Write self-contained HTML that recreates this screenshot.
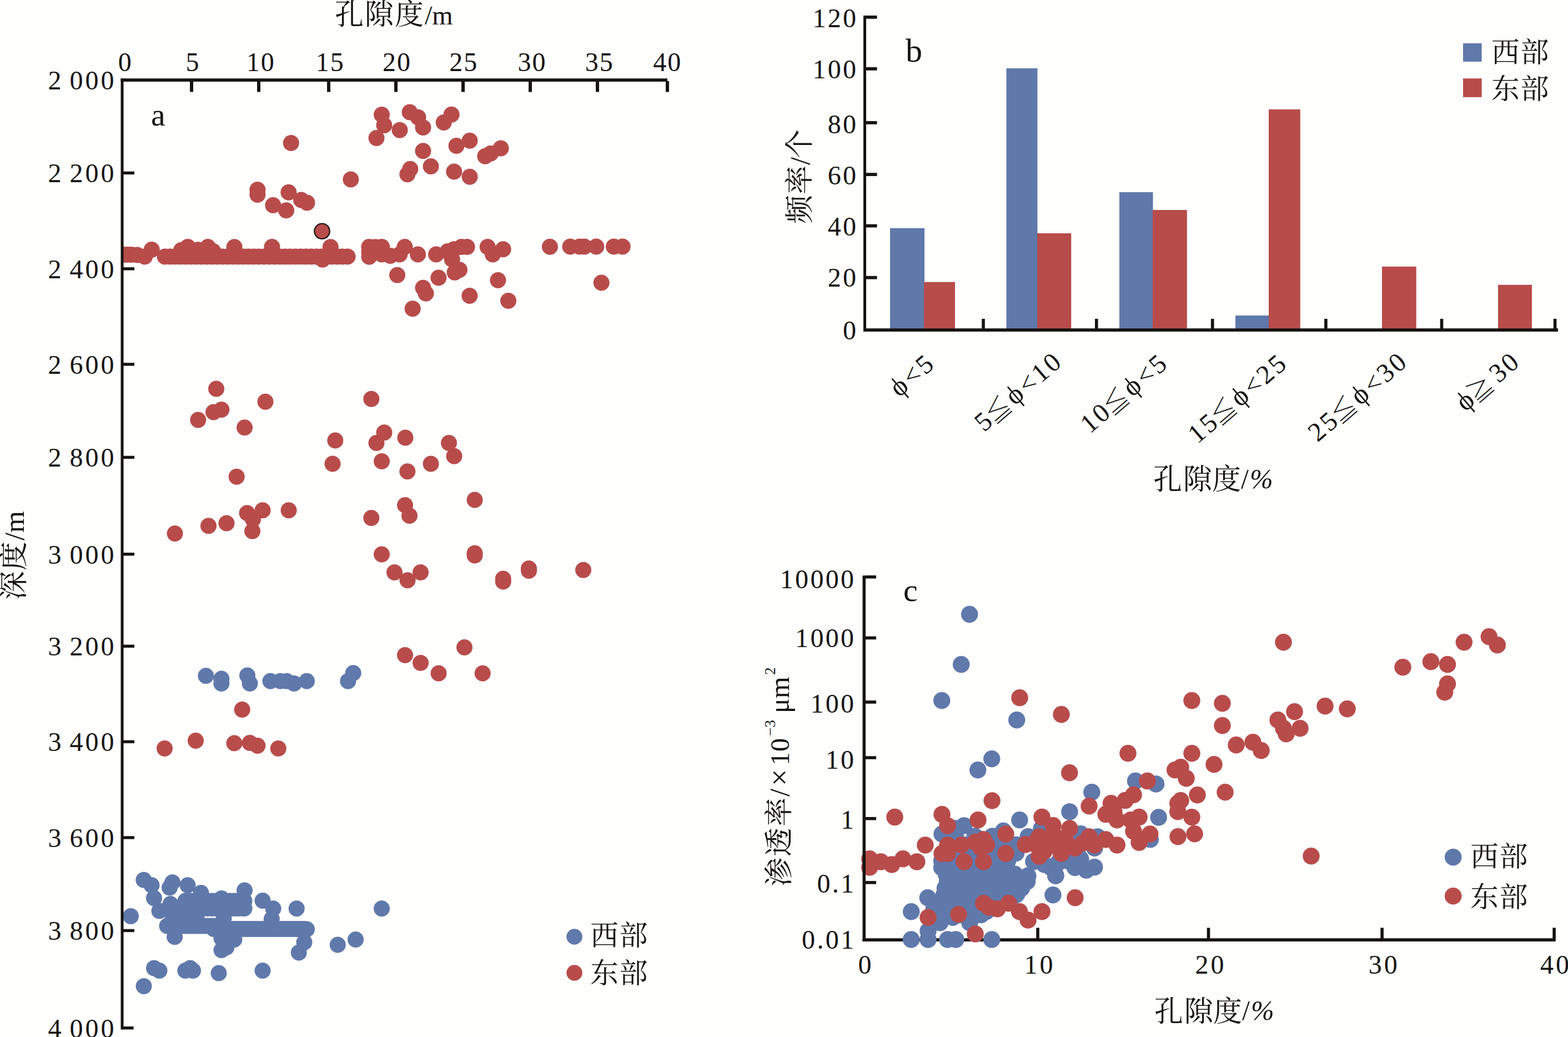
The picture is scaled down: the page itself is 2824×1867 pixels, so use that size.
<!DOCTYPE html>
<html><head><meta charset="utf-8"><style>html,body{margin:0;padding:0;background:#fefefd}svg{display:block}</style></head><body><svg width="2824" height="1867" viewBox="0 0 2824 1867" font-family="'Liberation Serif', serif" fill="#161412">
<rect width="2824" height="1867" fill="#fefefd"/>
<clipPath id="ca"><rect x="219" y="144" width="1100" height="1720"/></clipPath><g clip-path="url(#ca)">
<g fill="#6079ab"><circle cx="370.8" cy="1216.8" r="14.5"/><circle cx="398.8" cy="1222.0" r="14.5"/><circle cx="398.8" cy="1230.5" r="14.5"/><circle cx="445.5" cy="1216.0" r="14.5"/><circle cx="450.0" cy="1230.5" r="14.5"/><circle cx="487.0" cy="1226.2" r="14.5"/><circle cx="505.0" cy="1226.2" r="14.5"/><circle cx="516.2" cy="1226.2" r="14.5"/><circle cx="529.5" cy="1230.5" r="14.5"/><circle cx="552.5" cy="1226.2" r="14.5"/><circle cx="636.2" cy="1211.8" r="14.5"/><circle cx="626.8" cy="1226.2" r="14.5"/><circle cx="235.5" cy="1649.5" r="14.5"/><circle cx="687.5" cy="1635.8" r="14.5"/><circle cx="534.2" cy="1635.8" r="14.5"/><circle cx="640.5" cy="1691.5" r="14.5"/><circle cx="608.2" cy="1701.0" r="14.5"/><circle cx="538.2" cy="1715.0" r="14.5"/><circle cx="548.0" cy="1696.5" r="14.5"/><circle cx="552.5" cy="1673.0" r="14.5"/><circle cx="473.0" cy="1747.5" r="14.5"/><circle cx="394.0" cy="1752.0" r="14.5"/><circle cx="342.5" cy="1743.0" r="14.5"/><circle cx="333.8" cy="1747.5" r="14.5"/><circle cx="347.5" cy="1747.5" r="14.5"/><circle cx="277.5" cy="1743.0" r="14.5"/><circle cx="287.0" cy="1747.5" r="14.5"/><circle cx="259.0" cy="1775.5" r="14.5"/><circle cx="258.8" cy="1584.2" r="14.5"/><circle cx="273.0" cy="1593.8" r="14.5"/><circle cx="277.5" cy="1617.0" r="14.5"/><circle cx="287.0" cy="1640.0" r="14.5"/><circle cx="310.5" cy="1588.8" r="14.5"/><circle cx="305.5" cy="1598.0" r="14.5"/><circle cx="338.0" cy="1593.8" r="14.5"/><circle cx="362.0" cy="1607.5" r="14.5"/><circle cx="440.5" cy="1603.0" r="14.5"/><circle cx="473.0" cy="1621.5" r="14.5"/><circle cx="492.0" cy="1635.8" r="14.5"/><circle cx="489.3" cy="1654.4" r="14.5"/><circle cx="334.0" cy="1622.0" r="14.5"/><circle cx="342.0" cy="1622.0" r="14.5"/><circle cx="350.0" cy="1622.0" r="14.5"/><circle cx="358.0" cy="1622.0" r="14.5"/><circle cx="366.0" cy="1622.0" r="14.5"/><circle cx="374.0" cy="1622.0" r="14.5"/><circle cx="382.0" cy="1622.0" r="14.5"/><circle cx="390.0" cy="1622.0" r="14.5"/><circle cx="398.0" cy="1622.0" r="14.5"/><circle cx="406.0" cy="1622.0" r="14.5"/><circle cx="414.0" cy="1622.0" r="14.5"/><circle cx="422.0" cy="1622.0" r="14.5"/><circle cx="430.0" cy="1622.0" r="14.5"/><circle cx="438.0" cy="1622.0" r="14.5"/><circle cx="326.0" cy="1635.5" r="14.5"/><circle cx="334.0" cy="1635.5" r="14.5"/><circle cx="342.0" cy="1635.5" r="14.5"/><circle cx="350.0" cy="1635.5" r="14.5"/><circle cx="358.0" cy="1635.5" r="14.5"/><circle cx="366.0" cy="1635.5" r="14.5"/><circle cx="374.0" cy="1635.5" r="14.5"/><circle cx="382.0" cy="1635.5" r="14.5"/><circle cx="390.0" cy="1635.5" r="14.5"/><circle cx="398.0" cy="1635.5" r="14.5"/><circle cx="406.0" cy="1635.5" r="14.5"/><circle cx="414.0" cy="1635.5" r="14.5"/><circle cx="422.0" cy="1635.5" r="14.5"/><circle cx="430.0" cy="1635.5" r="14.5"/><circle cx="438.0" cy="1635.5" r="14.5"/><circle cx="440.0" cy="1622.0" r="14.5"/><circle cx="440.0" cy="1635.5" r="14.5"/><circle cx="399.0" cy="1617.6" r="14.5"/><circle cx="307.0" cy="1627.5" r="14.5"/><circle cx="311.0" cy="1641.0" r="14.5"/><circle cx="311.0" cy="1654.5" r="14.5"/><circle cx="318.0" cy="1662.0" r="14.5"/><circle cx="326.0" cy="1649.0" r="14.5"/><circle cx="340.0" cy="1649.0" r="14.5"/><circle cx="354.0" cy="1649.0" r="14.5"/><circle cx="326.0" cy="1662.0" r="14.5"/><circle cx="340.0" cy="1662.0" r="14.5"/><circle cx="354.0" cy="1662.0" r="14.5"/><circle cx="403.0" cy="1653.0" r="14.5"/><circle cx="301.0" cy="1667.0" r="14.5"/><circle cx="307.0" cy="1667.0" r="14.5"/><circle cx="313.0" cy="1667.0" r="14.5"/><circle cx="319.0" cy="1667.0" r="14.5"/><circle cx="325.0" cy="1667.0" r="14.5"/><circle cx="331.0" cy="1667.0" r="14.5"/><circle cx="337.0" cy="1667.0" r="14.5"/><circle cx="343.0" cy="1667.0" r="14.5"/><circle cx="349.0" cy="1667.0" r="14.5"/><circle cx="355.0" cy="1667.0" r="14.5"/><circle cx="361.0" cy="1667.0" r="14.5"/><circle cx="367.0" cy="1667.0" r="14.5"/><circle cx="373.0" cy="1667.0" r="14.5"/><circle cx="379.0" cy="1667.0" r="14.5"/><circle cx="385.0" cy="1667.0" r="14.5"/><circle cx="385.0" cy="1672.4" r="14.5"/><circle cx="391.0" cy="1672.4" r="14.5"/><circle cx="397.0" cy="1672.4" r="14.5"/><circle cx="403.0" cy="1672.4" r="14.5"/><circle cx="409.0" cy="1672.4" r="14.5"/><circle cx="415.0" cy="1672.4" r="14.5"/><circle cx="421.0" cy="1672.4" r="14.5"/><circle cx="427.0" cy="1672.4" r="14.5"/><circle cx="433.0" cy="1672.4" r="14.5"/><circle cx="439.0" cy="1672.4" r="14.5"/><circle cx="445.0" cy="1672.4" r="14.5"/><circle cx="451.0" cy="1672.4" r="14.5"/><circle cx="457.0" cy="1672.4" r="14.5"/><circle cx="463.0" cy="1672.4" r="14.5"/><circle cx="469.0" cy="1672.4" r="14.5"/><circle cx="475.0" cy="1672.4" r="14.5"/><circle cx="481.0" cy="1672.4" r="14.5"/><circle cx="487.0" cy="1672.4" r="14.5"/><circle cx="493.0" cy="1672.4" r="14.5"/><circle cx="499.0" cy="1672.4" r="14.5"/><circle cx="505.0" cy="1672.4" r="14.5"/><circle cx="511.0" cy="1672.4" r="14.5"/><circle cx="517.0" cy="1672.4" r="14.5"/><circle cx="523.0" cy="1672.4" r="14.5"/><circle cx="529.0" cy="1672.4" r="14.5"/><circle cx="535.0" cy="1672.4" r="14.5"/><circle cx="541.0" cy="1672.4" r="14.5"/><circle cx="547.0" cy="1672.4" r="14.5"/><circle cx="314.6" cy="1686.8" r="14.5"/><circle cx="399.0" cy="1710.4" r="14.5"/><circle cx="407.7" cy="1705.7" r="14.5"/><circle cx="421.9" cy="1691.5" r="14.5"/><circle cx="399.0" cy="1689.5" r="14.5"/></g>
<g fill="#b84c4b"><circle cx="524.2" cy="257.5" r="14.5"/><circle cx="687.5" cy="206.5" r="14.5"/><circle cx="692.0" cy="225.5" r="14.5"/><circle cx="678.0" cy="248.5" r="14.5"/><circle cx="720.0" cy="234.2" r="14.5"/><circle cx="738.0" cy="202.0" r="14.5"/><circle cx="753.0" cy="211.2" r="14.5"/><circle cx="762.0" cy="229.5" r="14.5"/><circle cx="799.2" cy="220.5" r="14.5"/><circle cx="813.2" cy="206.2" r="14.5"/><circle cx="762.0" cy="271.8" r="14.5"/><circle cx="822.0" cy="262.5" r="14.5"/><circle cx="846.0" cy="253.2" r="14.5"/><circle cx="902.0" cy="267.0" r="14.5"/><circle cx="883.8" cy="276.2" r="14.5"/><circle cx="873.8" cy="281.2" r="14.5"/><circle cx="738.8" cy="304.2" r="14.5"/><circle cx="733.8" cy="313.8" r="14.5"/><circle cx="776.0" cy="299.5" r="14.5"/><circle cx="817.8" cy="309.0" r="14.5"/><circle cx="846.0" cy="318.2" r="14.5"/><circle cx="631.8" cy="323.0" r="14.5"/><circle cx="463.8" cy="341.5" r="14.5"/><circle cx="463.8" cy="350.5" r="14.5"/><circle cx="519.8" cy="346.2" r="14.5"/><circle cx="491.8" cy="369.5" r="14.5"/><circle cx="515.5" cy="378.8" r="14.5"/><circle cx="542.5" cy="360.0" r="14.5"/><circle cx="553.0" cy="365.0" r="14.5"/><circle cx="222.0" cy="458.4" r="14.5"/><circle cx="229.0" cy="458.4" r="14.5"/><circle cx="236.0" cy="458.4" r="14.5"/><circle cx="247.0" cy="459.0" r="14.5"/><circle cx="260.6" cy="462.1" r="14.5"/><circle cx="273.2" cy="449.5" r="14.5"/><circle cx="297.0" cy="462.1" r="14.5"/><circle cx="306.4" cy="462.1" r="14.5"/><circle cx="315.8" cy="462.1" r="14.5"/><circle cx="325.2" cy="462.1" r="14.5"/><circle cx="334.6" cy="462.1" r="14.5"/><circle cx="344.0" cy="462.1" r="14.5"/><circle cx="353.4" cy="462.1" r="14.5"/><circle cx="362.8" cy="462.1" r="14.5"/><circle cx="372.2" cy="462.1" r="14.5"/><circle cx="381.6" cy="462.1" r="14.5"/><circle cx="391.0" cy="462.1" r="14.5"/><circle cx="400.4" cy="462.1" r="14.5"/><circle cx="409.8" cy="462.1" r="14.5"/><circle cx="419.2" cy="462.1" r="14.5"/><circle cx="428.6" cy="462.1" r="14.5"/><circle cx="438.0" cy="462.1" r="14.5"/><circle cx="447.4" cy="462.1" r="14.5"/><circle cx="456.8" cy="462.1" r="14.5"/><circle cx="466.2" cy="462.1" r="14.5"/><circle cx="475.6" cy="462.1" r="14.5"/><circle cx="485.0" cy="462.1" r="14.5"/><circle cx="494.4" cy="462.1" r="14.5"/><circle cx="503.8" cy="462.1" r="14.5"/><circle cx="513.2" cy="462.1" r="14.5"/><circle cx="522.6" cy="462.1" r="14.5"/><circle cx="532.0" cy="462.1" r="14.5"/><circle cx="541.4" cy="462.1" r="14.5"/><circle cx="550.8" cy="462.1" r="14.5"/><circle cx="560.2" cy="462.1" r="14.5"/><circle cx="569.6" cy="462.1" r="14.5"/><circle cx="579.0" cy="462.1" r="14.5"/><circle cx="588.4" cy="462.1" r="14.5"/><circle cx="597.8" cy="462.1" r="14.5"/><circle cx="607.2" cy="462.1" r="14.5"/><circle cx="616.6" cy="462.1" r="14.5"/><circle cx="626.0" cy="462.1" r="14.5"/><circle cx="338.2" cy="444.4" r="14.5"/><circle cx="374.4" cy="444.4" r="14.5"/><circle cx="422.1" cy="444.7" r="14.5"/><circle cx="489.9" cy="444.4" r="14.5"/><circle cx="595.3" cy="444.7" r="14.5"/><circle cx="326.4" cy="450.5" r="14.5"/><circle cx="356.4" cy="449.8" r="14.5"/><circle cx="383.7" cy="452.2" r="14.5"/><circle cx="581.0" cy="467.2" r="14.5"/><circle cx="676.0" cy="444.8" r="14.5"/><circle cx="664.9" cy="453.5" r="14.5"/><circle cx="664.9" cy="444.6" r="14.5"/><circle cx="687.7" cy="444.6" r="14.5"/><circle cx="664.9" cy="462.3" r="14.5"/><circle cx="687.7" cy="458.0" r="14.5"/><circle cx="676.0" cy="453.0" r="14.5"/><circle cx="702.9" cy="460.6" r="14.5"/><circle cx="729.0" cy="444.6" r="14.5"/><circle cx="719.7" cy="458.0" r="14.5"/><circle cx="752.6" cy="458.0" r="14.5"/><circle cx="785.5" cy="458.0" r="14.5"/><circle cx="806.2" cy="452.5" r="14.5"/><circle cx="817.5" cy="448.8" r="14.5"/><circle cx="831.0" cy="444.6" r="14.5"/><circle cx="841.1" cy="444.6" r="14.5"/><circle cx="814.2" cy="467.0" r="14.5"/><circle cx="827.5" cy="485.8" r="14.5"/><circle cx="819.0" cy="490.5" r="14.5"/><circle cx="878.2" cy="444.6" r="14.5"/><circle cx="906.1" cy="448.8" r="14.5"/><circle cx="887.5" cy="458.0" r="14.5"/><circle cx="990.4" cy="444.2" r="14.5"/><circle cx="1027.0" cy="444.0" r="14.5"/><circle cx="1043.8" cy="444.0" r="14.5"/><circle cx="1052.5" cy="444.0" r="14.5"/><circle cx="1073.8" cy="444.0" r="14.5"/><circle cx="1105.5" cy="444.0" r="14.5"/><circle cx="1121.2" cy="444.0" r="14.5"/><circle cx="715.5" cy="495.2" r="14.5"/><circle cx="789.8" cy="500.1" r="14.5"/><circle cx="896.9" cy="504.5" r="14.5"/><circle cx="762.0" cy="518.2" r="14.5"/><circle cx="767.0" cy="528.2" r="14.5"/><circle cx="743.2" cy="555.8" r="14.5"/><circle cx="845.8" cy="532.5" r="14.5"/><circle cx="915.5" cy="541.5" r="14.5"/><circle cx="1083.2" cy="509.0" r="14.5"/><circle cx="389.5" cy="700.0" r="14.5"/><circle cx="478.0" cy="723.2" r="14.5"/><circle cx="668.8" cy="718.2" r="14.5"/><circle cx="398.8" cy="737.5" r="14.5"/><circle cx="384.5" cy="742.0" r="14.5"/><circle cx="356.8" cy="756.0" r="14.5"/><circle cx="440.5" cy="769.8" r="14.5"/><circle cx="603.8" cy="793.0" r="14.5"/><circle cx="692.0" cy="778.8" r="14.5"/><circle cx="678.0" cy="797.5" r="14.5"/><circle cx="730.0" cy="788.0" r="14.5"/><circle cx="599.0" cy="835.0" r="14.5"/><circle cx="687.5" cy="830.5" r="14.5"/><circle cx="733.8" cy="848.8" r="14.5"/><circle cx="426.2" cy="858.2" r="14.5"/><circle cx="520.0" cy="918.8" r="14.5"/><circle cx="473.0" cy="918.8" r="14.5"/><circle cx="445.0" cy="923.8" r="14.5"/><circle cx="455.5" cy="935.0" r="14.5"/><circle cx="454.5" cy="956.2" r="14.5"/><circle cx="408.0" cy="942.0" r="14.5"/><circle cx="375.5" cy="946.8" r="14.5"/><circle cx="315.0" cy="960.5" r="14.5"/><circle cx="668.8" cy="932.5" r="14.5"/><circle cx="729.5" cy="909.5" r="14.5"/><circle cx="737.5" cy="928.5" r="14.5"/><circle cx="687.5" cy="998.0" r="14.5"/><circle cx="710.5" cy="1030.5" r="14.5"/><circle cx="734.0" cy="1044.8" r="14.5"/><circle cx="808.5" cy="797.5" r="14.5"/><circle cx="818.0" cy="821.2" r="14.5"/><circle cx="776.0" cy="835.0" r="14.5"/><circle cx="855.0" cy="900.0" r="14.5"/><circle cx="855.0" cy="996.0" r="14.5"/><circle cx="855.0" cy="1000.0" r="14.5"/><circle cx="757.5" cy="1030.5" r="14.5"/><circle cx="952.5" cy="1023.5" r="14.5"/><circle cx="952.5" cy="1027.5" r="14.5"/><circle cx="906.2" cy="1042.0" r="14.5"/><circle cx="906.2" cy="1047.0" r="14.5"/><circle cx="1050.5" cy="1026.2" r="14.5"/><circle cx="729.5" cy="1179.5" r="14.5"/><circle cx="757.5" cy="1193.5" r="14.5"/><circle cx="790.0" cy="1212.2" r="14.5"/><circle cx="836.5" cy="1165.5" r="14.5"/><circle cx="869.2" cy="1212.2" r="14.5"/><circle cx="436.2" cy="1277.5" r="14.5"/><circle cx="352.5" cy="1333.5" r="14.5"/><circle cx="296.5" cy="1347.5" r="14.5"/><circle cx="422.0" cy="1338.0" r="14.5"/><circle cx="450.0" cy="1337.5" r="14.5"/><circle cx="463.8" cy="1342.5" r="14.5"/><circle cx="501.2" cy="1347.5" r="14.5"/></g>
</g>
<circle cx="580" cy="416.25" r="13.75" fill="#b84c4b" stroke="#161412" stroke-width="2.2"/>
<rect x="217.50" y="141.25" width="5.00" height="1712.25" fill="#161412"/>
<rect x="217.50" y="141.25" width="984.50" height="5.75" fill="#161412"/>
<rect x="342.00" y="146.00" width="6.00" height="19.50" fill="#161412"/>
<rect x="463.00" y="146.00" width="6.00" height="19.50" fill="#161412"/>
<rect x="589.00" y="146.00" width="6.00" height="19.50" fill="#161412"/>
<rect x="710.00" y="146.00" width="6.00" height="19.50" fill="#161412"/>
<rect x="831.00" y="146.00" width="6.00" height="19.50" fill="#161412"/>
<rect x="952.00" y="146.00" width="6.00" height="19.50" fill="#161412"/>
<rect x="1073.00" y="146.00" width="6.00" height="19.50" fill="#161412"/>
<rect x="1199.00" y="146.00" width="6.00" height="19.50" fill="#161412"/>
<rect x="222.00" y="308.70" width="20.00" height="5.40" fill="#161412"/>
<rect x="222.00" y="481.20" width="20.00" height="5.40" fill="#161412"/>
<rect x="222.00" y="653.20" width="20.00" height="5.40" fill="#161412"/>
<rect x="222.00" y="820.70" width="20.00" height="5.40" fill="#161412"/>
<rect x="222.00" y="995.05" width="20.00" height="5.40" fill="#161412"/>
<rect x="222.00" y="1160.70" width="20.00" height="5.40" fill="#161412"/>
<rect x="222.00" y="1332.70" width="20.00" height="5.40" fill="#161412"/>
<rect x="222.00" y="1505.30" width="20.00" height="5.40" fill="#161412"/>
<rect x="222.00" y="1672.70" width="20.00" height="5.40" fill="#161412"/>
<rect x="222.00" y="1848.05" width="18.50" height="5.40" fill="#161412"/>
<text x="225.75" y="128.00" font-size="48" text-anchor="middle" letter-spacing="2">0</text>
<text x="347.50" y="128.00" font-size="48" text-anchor="middle" letter-spacing="2">5</text>
<text x="469.75" y="128.00" font-size="48" text-anchor="middle" letter-spacing="2">10</text>
<text x="594.75" y="128.00" font-size="48" text-anchor="middle" letter-spacing="2">15</text>
<text x="715.00" y="128.00" font-size="48" text-anchor="middle" letter-spacing="2">20</text>
<text x="835.30" y="128.00" font-size="48" text-anchor="middle" letter-spacing="2">25</text>
<text x="958.50" y="128.00" font-size="48" text-anchor="middle" letter-spacing="2">30</text>
<text x="1079.75" y="128.00" font-size="48" text-anchor="middle" letter-spacing="2">35</text>
<text x="1202.25" y="128.00" font-size="48" text-anchor="middle" letter-spacing="2">40</text>
<text x="209.60" y="160.80" font-size="48" text-anchor="end" letter-spacing="4" word-spacing="-5" xml:space="preserve">2 000</text>
<text x="209.60" y="328.20" font-size="48" text-anchor="end" letter-spacing="4" word-spacing="-5" xml:space="preserve">2 200</text>
<text x="209.60" y="500.70" font-size="48" text-anchor="end" letter-spacing="4" word-spacing="-5" xml:space="preserve">2 400</text>
<text x="209.60" y="672.70" font-size="48" text-anchor="end" letter-spacing="4" word-spacing="-5" xml:space="preserve">2 600</text>
<text x="209.60" y="840.20" font-size="48" text-anchor="end" letter-spacing="4" word-spacing="-5" xml:space="preserve">2 800</text>
<text x="209.60" y="1014.55" font-size="48" text-anchor="end" letter-spacing="4" word-spacing="-5" xml:space="preserve">3 000</text>
<text x="209.60" y="1180.20" font-size="48" text-anchor="end" letter-spacing="4" word-spacing="-5" xml:space="preserve">3 200</text>
<text x="209.60" y="1352.20" font-size="48" text-anchor="end" letter-spacing="4" word-spacing="-5" xml:space="preserve">3 400</text>
<text x="209.60" y="1524.80" font-size="48" text-anchor="end" letter-spacing="4" word-spacing="-5" xml:space="preserve">3 600</text>
<text x="209.60" y="1692.20" font-size="48" text-anchor="end" letter-spacing="4" word-spacing="-5" xml:space="preserve">3 800</text>
<text x="209.60" y="1867.55" font-size="48" text-anchor="end" letter-spacing="4" word-spacing="-5" xml:space="preserve">4 000</text>
<text x="272.00" y="226.00" font-size="58" text-anchor="start" >a</text>
<text x="603.00" y="43.50" font-size="52" text-anchor="start" font-family="'Liberation Serif', 'Noto Serif CJK SC', serif">孔</text>
<text x="657.00" y="43.50" font-size="52" text-anchor="start" font-family="'Liberation Serif', 'Noto Serif CJK SC', serif">隙</text>
<text x="711.00" y="43.50" font-size="52" text-anchor="start" font-family="'Liberation Serif', 'Noto Serif CJK SC', serif">度</text>
<text x="765.00" y="43.50" font-size="48" text-anchor="start" >/m</text>
<g transform="translate(42.5,1080) rotate(-90)">
<text x="0.00" y="0.00" font-size="52" text-anchor="start" font-family="'Liberation Serif', 'Noto Serif CJK SC', serif">深</text>
<text x="53.00" y="0.00" font-size="52" text-anchor="start" font-family="'Liberation Serif', 'Noto Serif CJK SC', serif">度</text>
<text x="107.00" y="0.00" font-size="50" text-anchor="start" >/m</text>
</g>
<g fill="#6079ab"><circle cx="1034.5" cy="1686.5" r="14.3"/></g>
<g fill="#b84c4b"><circle cx="1034.5" cy="1751.5" r="14.3"/></g>
<text x="1063.00" y="1702.00" font-size="51" text-anchor="start" font-family="'Liberation Serif', 'Noto Serif CJK SC', serif">西</text>
<text x="1115.50" y="1702.00" font-size="51" text-anchor="start" font-family="'Liberation Serif', 'Noto Serif CJK SC', serif">部</text>
<text x="1063.00" y="1770.00" font-size="51" text-anchor="start" font-family="'Liberation Serif', 'Noto Serif CJK SC', serif">东</text>
<text x="1115.50" y="1770.00" font-size="51" text-anchor="start" font-family="'Liberation Serif', 'Noto Serif CJK SC', serif">部</text>
<rect x="1603.00" y="410.75" width="62.00" height="181.25" fill="#6079ab"/>
<rect x="1664.00" y="507.75" width="56.00" height="84.25" fill="#b84c4b"/>
<rect x="1812.50" y="123.00" width="56.00" height="469.00" fill="#6079ab"/>
<rect x="1868.00" y="420.00" width="61.25" height="172.00" fill="#b84c4b"/>
<rect x="2016.00" y="346.00" width="60.50" height="246.00" fill="#6079ab"/>
<rect x="2076.00" y="378.00" width="61.80" height="214.00" fill="#b84c4b"/>
<rect x="2225.00" y="568.00" width="60.00" height="24.00" fill="#6079ab"/>
<rect x="2285.00" y="197.00" width="56.80" height="395.00" fill="#b84c4b"/>
<rect x="2489.00" y="480.00" width="61.70" height="112.00" fill="#b84c4b"/>
<rect x="2698.00" y="512.80" width="61.00" height="79.20" fill="#b84c4b"/>
<rect x="1555.00" y="28.00" width="5.00" height="569.00" fill="#161412"/>
<rect x="1555.00" y="591.25" width="1251.00" height="5.75" fill="#161412"/>
<rect x="1559.00" y="28.00" width="20.50" height="5.80" fill="#161412"/>
<rect x="1559.00" y="121.00" width="20.50" height="5.80" fill="#161412"/>
<rect x="1559.00" y="218.00" width="20.50" height="5.80" fill="#161412"/>
<rect x="1559.00" y="311.20" width="20.50" height="5.80" fill="#161412"/>
<rect x="1559.00" y="403.70" width="20.50" height="5.80" fill="#161412"/>
<rect x="1559.00" y="496.85" width="20.50" height="5.80" fill="#161412"/>
<rect x="1768.20" y="574.00" width="5.60" height="18.00" fill="#161412"/>
<rect x="1972.00" y="574.00" width="5.60" height="18.00" fill="#161412"/>
<rect x="2180.90" y="574.00" width="5.60" height="18.00" fill="#161412"/>
<rect x="2385.10" y="574.00" width="5.60" height="18.00" fill="#161412"/>
<rect x="2593.70" y="574.00" width="5.60" height="18.00" fill="#161412"/>
<rect x="2797.80" y="574.00" width="5.60" height="18.00" fill="#161412"/>
<text x="1545.30" y="48.80" font-size="48" text-anchor="end" letter-spacing="3.3">120</text>
<text x="1545.30" y="141.30" font-size="48" text-anchor="end" letter-spacing="3.3">100</text>
<text x="1545.30" y="240.05" font-size="48" text-anchor="end" letter-spacing="3.3">80</text>
<text x="1545.30" y="332.30" font-size="48" text-anchor="end" letter-spacing="3.3">60</text>
<text x="1545.30" y="424.30" font-size="48" text-anchor="end" letter-spacing="3.3">40</text>
<text x="1545.30" y="515.70" font-size="48" text-anchor="end" letter-spacing="3.3">20</text>
<text x="1545.30" y="611.30" font-size="48" text-anchor="end" letter-spacing="3.3">0</text>
<text x="1631.00" y="110.50" font-size="60" text-anchor="start" >b</text>
<g transform="translate(1458,403) rotate(-90)">
<text x="0.00" y="0.00" font-size="52" text-anchor="start" font-family="'Liberation Serif', 'Noto Serif CJK SC', serif">频</text>
<text x="53.00" y="0.00" font-size="52" text-anchor="start" font-family="'Liberation Serif', 'Noto Serif CJK SC', serif">率</text>
<text x="106.00" y="0.00" font-size="50" text-anchor="start" >/</text>
<text x="118.00" y="0.00" font-size="52" text-anchor="start" font-family="'Liberation Serif', 'Noto Serif CJK SC', serif">个</text>
</g>
<text x="2077.00" y="881.00" font-size="52" text-anchor="start" font-family="'Liberation Serif', 'Noto Serif CJK SC', serif">孔</text>
<text x="2131.00" y="881.00" font-size="52" text-anchor="start" font-family="'Liberation Serif', 'Noto Serif CJK SC', serif">隙</text>
<text x="2183.00" y="881.00" font-size="52" text-anchor="start" font-family="'Liberation Serif', 'Noto Serif CJK SC', serif">度</text>
<text x="2235.00" y="879.00" font-size="50" text-anchor="start" >/</text>
<text x="2251.00" y="879.00" font-size="50" text-anchor="start" font-style="italic">%</text>
<rect x="2635.00" y="78.00" width="33.60" height="33.00" fill="#6079ab"/>
<rect x="2635.00" y="141.20" width="33.60" height="33.70" fill="#b84c4b"/>
<text x="2686.00" y="112.00" font-size="51" text-anchor="start" font-family="'Liberation Serif', 'Noto Serif CJK SC', serif">西</text>
<text x="2738.50" y="112.00" font-size="51" text-anchor="start" font-family="'Liberation Serif', 'Noto Serif CJK SC', serif">部</text>
<text x="2686.00" y="178.00" font-size="51" text-anchor="start" font-family="'Liberation Serif', 'Noto Serif CJK SC', serif">东</text>
<text x="2738.50" y="178.00" font-size="51" text-anchor="start" font-family="'Liberation Serif', 'Noto Serif CJK SC', serif">部</text>
<g transform="translate(1686,659) rotate(-40.7)">
<text x="-14.00" y="0.00" font-size="48" text-anchor="middle" >5</text>
<text x="-44.00" y="0.00" font-size="48" text-anchor="middle" >&lt;</text>
<text x="-75.00" y="0.00" font-size="50" text-anchor="middle" >ϕ</text>
</g>
<g transform="translate(1915.5,655.5) rotate(-40.7)">
<text x="-14.00" y="0.00" font-size="48" text-anchor="middle" >0</text>
<text x="-42.00" y="0.00" font-size="48" text-anchor="middle" >1</text>
<text x="-72.00" y="0.00" font-size="48" text-anchor="middle" >&lt;</text>
<text x="-103.00" y="0.00" font-size="50" text-anchor="middle" >ϕ</text>
<text x="-166.00" y="3" font-size="46" text-anchor="start" font-family="'Liberation Serif', 'Noto Serif CJK SC', 'DejaVu Sans', serif">≦</text>
<text x="-177.00" y="0.00" font-size="48" text-anchor="middle" >5</text>
</g>
<g transform="translate(2106,658.5) rotate(-40.7)">
<text x="-14.00" y="0.00" font-size="48" text-anchor="middle" >5</text>
<text x="-44.00" y="0.00" font-size="48" text-anchor="middle" >&lt;</text>
<text x="-75.00" y="0.00" font-size="50" text-anchor="middle" >ϕ</text>
<text x="-138.00" y="3" font-size="46" text-anchor="start" font-family="'Liberation Serif', 'Noto Serif CJK SC', 'DejaVu Sans', serif">≦</text>
<text x="-149.00" y="0.00" font-size="48" text-anchor="middle" >0</text>
<text x="-177.00" y="0.00" font-size="48" text-anchor="middle" >1</text>
</g>
<g transform="translate(2321,658.5) rotate(-40.7)">
<text x="-14.00" y="0.00" font-size="48" text-anchor="middle" >5</text>
<text x="-42.00" y="0.00" font-size="48" text-anchor="middle" >2</text>
<text x="-72.00" y="0.00" font-size="48" text-anchor="middle" >&lt;</text>
<text x="-103.00" y="0.00" font-size="50" text-anchor="middle" >ϕ</text>
<text x="-166.00" y="3" font-size="46" text-anchor="start" font-family="'Liberation Serif', 'Noto Serif CJK SC', 'DejaVu Sans', serif">≦</text>
<text x="-177.00" y="0.00" font-size="48" text-anchor="middle" >5</text>
<text x="-205.00" y="0.00" font-size="48" text-anchor="middle" >1</text>
</g>
<g transform="translate(2537.5,655.5) rotate(-40.7)">
<text x="-14.00" y="0.00" font-size="48" text-anchor="middle" >0</text>
<text x="-42.00" y="0.00" font-size="48" text-anchor="middle" >3</text>
<text x="-72.00" y="0.00" font-size="48" text-anchor="middle" >&lt;</text>
<text x="-103.00" y="0.00" font-size="50" text-anchor="middle" >ϕ</text>
<text x="-166.00" y="3" font-size="46" text-anchor="start" font-family="'Liberation Serif', 'Noto Serif CJK SC', 'DejaVu Sans', serif">≦</text>
<text x="-177.00" y="0.00" font-size="48" text-anchor="middle" >5</text>
<text x="-205.00" y="0.00" font-size="48" text-anchor="middle" >2</text>
</g>
<g transform="translate(2740,655.5) rotate(-40.7)">
<text x="-14.00" y="0.00" font-size="48" text-anchor="middle" >0</text>
<text x="-42.00" y="0.00" font-size="48" text-anchor="middle" >3</text>
<text x="-108.00" y="3" font-size="46" text-anchor="start" font-family="'Liberation Serif', 'Noto Serif CJK SC', 'DejaVu Sans', serif">≧</text>
<text x="-120.00" y="0.00" font-size="50" text-anchor="middle" >ϕ</text>
</g>
<rect x="1553.50" y="1689.25" width="1248.25" height="5.75" fill="#161412"/>
<rect x="1866.20" y="1670.40" width="5.60" height="19.60" fill="#161412"/>
<rect x="2173.70" y="1670.40" width="5.60" height="19.60" fill="#161412"/>
<rect x="2486.30" y="1670.40" width="5.60" height="19.60" fill="#161412"/>
<rect x="2796.30" y="1670.40" width="5.60" height="19.60" fill="#161412"/>
<g fill="#6079ab"><circle cx="1746.2" cy="1106.0" r="15.25"/><circle cx="1731.2" cy="1196.2" r="15.25"/><circle cx="1696.2" cy="1261.2" r="15.25"/><circle cx="1831.2" cy="1296.2" r="15.25"/><circle cx="1786.2" cy="1366.2" r="15.25"/><circle cx="1761.2" cy="1386.2" r="15.25"/><circle cx="1836.4" cy="1476.3" r="15.25"/><circle cx="1736.3" cy="1486.4" r="15.25"/><circle cx="1696.5" cy="1501.5" r="15.25"/><circle cx="1720.8" cy="1491.4" r="15.25"/><circle cx="1755.9" cy="1505.5" r="15.25"/><circle cx="1807.1" cy="1496.1" r="15.25"/><circle cx="1851.6" cy="1506.2" r="15.25"/><circle cx="1720.8" cy="1505.5" r="15.25"/><circle cx="1787.0" cy="1505.5" r="15.25"/><circle cx="1670.9" cy="1616.2" r="15.25"/><circle cx="1641.2" cy="1641.2" r="15.25"/><circle cx="1641.1" cy="1691.5" r="15.25"/><circle cx="1671.5" cy="1691.5" r="15.25"/><circle cx="1671.5" cy="1676.0" r="15.25"/><circle cx="1706.6" cy="1691.5" r="15.25"/><circle cx="1721.4" cy="1691.5" r="15.25"/><circle cx="1786.2" cy="1691.5" r="15.25"/><circle cx="1746.4" cy="1661.2" r="15.25"/><circle cx="1716.0" cy="1651.7" r="15.25"/><circle cx="1693.1" cy="1661.2" r="15.25"/><circle cx="1776.7" cy="1640.9" r="15.25"/><circle cx="1896.4" cy="1611.3" r="15.25"/><circle cx="1901.5" cy="1576.2" r="15.25"/><circle cx="1849.6" cy="1587.0" r="15.25"/><circle cx="1832.0" cy="1608.6" r="15.25"/><circle cx="1966.3" cy="1426.3" r="15.25"/><circle cx="1926.4" cy="1461.4" r="15.25"/><circle cx="2086.7" cy="1471.5" r="15.25"/><circle cx="2045.0" cy="1406.1" r="15.25"/><circle cx="2082.0" cy="1411.5" r="15.25"/><circle cx="2071.8" cy="1511.3" r="15.25"/><circle cx="1875.5" cy="1491.7" r="15.25"/><circle cx="1946.4" cy="1501.2" r="15.25"/><circle cx="1976.7" cy="1506.6" r="15.25"/><circle cx="1971.3" cy="1526.8" r="15.25"/><circle cx="1824.3" cy="1525.5" r="15.25"/><circle cx="1861.4" cy="1551.1" r="15.25"/><circle cx="1880.9" cy="1556.5" r="15.25"/><circle cx="1901.2" cy="1576.7" r="15.25"/><circle cx="1926.4" cy="1551.1" r="15.25"/><circle cx="1946.4" cy="1547.0" r="15.25"/><circle cx="1956.5" cy="1566.6" r="15.25"/><circle cx="1971.3" cy="1561.2" r="15.25"/><circle cx="1851.3" cy="1576.7" r="15.25"/><circle cx="1945.0" cy="1545.0" r="15.25"/><circle cx="1936.0" cy="1562.0" r="15.25"/><circle cx="1905.0" cy="1554.0" r="15.25"/><circle cx="1893.0" cy="1562.0" r="15.25"/><circle cx="1714.0" cy="1521.0" r="15.25"/><circle cx="1724.0" cy="1521.0" r="15.25"/><circle cx="1734.0" cy="1521.0" r="15.25"/><circle cx="1744.0" cy="1521.0" r="15.25"/><circle cx="1754.0" cy="1521.0" r="15.25"/><circle cx="1764.0" cy="1521.0" r="15.25"/><circle cx="1774.0" cy="1521.0" r="15.25"/><circle cx="1784.0" cy="1521.0" r="15.25"/><circle cx="1794.0" cy="1521.0" r="15.25"/><circle cx="1804.0" cy="1521.0" r="15.25"/><circle cx="1814.0" cy="1521.0" r="15.25"/><circle cx="1824.0" cy="1521.0" r="15.25"/><circle cx="1830.0" cy="1521.0" r="15.25"/><circle cx="1714.0" cy="1536.0" r="15.25"/><circle cx="1724.0" cy="1536.0" r="15.25"/><circle cx="1734.0" cy="1536.0" r="15.25"/><circle cx="1744.0" cy="1536.0" r="15.25"/><circle cx="1754.0" cy="1536.0" r="15.25"/><circle cx="1764.0" cy="1536.0" r="15.25"/><circle cx="1774.0" cy="1536.0" r="15.25"/><circle cx="1784.0" cy="1536.0" r="15.25"/><circle cx="1794.0" cy="1536.0" r="15.25"/><circle cx="1804.0" cy="1536.0" r="15.25"/><circle cx="1814.0" cy="1536.0" r="15.25"/><circle cx="1824.0" cy="1536.0" r="15.25"/><circle cx="1830.0" cy="1536.0" r="15.25"/><circle cx="1696.0" cy="1550.0" r="15.25"/><circle cx="1706.0" cy="1550.0" r="15.25"/><circle cx="1716.0" cy="1550.0" r="15.25"/><circle cx="1726.0" cy="1550.0" r="15.25"/><circle cx="1736.0" cy="1550.0" r="15.25"/><circle cx="1746.0" cy="1550.0" r="15.25"/><circle cx="1756.0" cy="1550.0" r="15.25"/><circle cx="1766.0" cy="1550.0" r="15.25"/><circle cx="1776.0" cy="1550.0" r="15.25"/><circle cx="1786.0" cy="1550.0" r="15.25"/><circle cx="1796.0" cy="1550.0" r="15.25"/><circle cx="1806.0" cy="1550.0" r="15.25"/><circle cx="1815.0" cy="1550.0" r="15.25"/><circle cx="1696.0" cy="1562.0" r="15.25"/><circle cx="1706.0" cy="1562.0" r="15.25"/><circle cx="1716.0" cy="1562.0" r="15.25"/><circle cx="1726.0" cy="1562.0" r="15.25"/><circle cx="1736.0" cy="1562.0" r="15.25"/><circle cx="1746.0" cy="1562.0" r="15.25"/><circle cx="1756.0" cy="1562.0" r="15.25"/><circle cx="1766.0" cy="1562.0" r="15.25"/><circle cx="1776.0" cy="1562.0" r="15.25"/><circle cx="1786.0" cy="1562.0" r="15.25"/><circle cx="1796.0" cy="1562.0" r="15.25"/><circle cx="1806.0" cy="1562.0" r="15.25"/><circle cx="1813.0" cy="1562.0" r="15.25"/><circle cx="1704.0" cy="1574.0" r="15.25"/><circle cx="1714.0" cy="1574.0" r="15.25"/><circle cx="1724.0" cy="1574.0" r="15.25"/><circle cx="1734.0" cy="1574.0" r="15.25"/><circle cx="1744.0" cy="1574.0" r="15.25"/><circle cx="1754.0" cy="1574.0" r="15.25"/><circle cx="1764.0" cy="1574.0" r="15.25"/><circle cx="1774.0" cy="1574.0" r="15.25"/><circle cx="1784.0" cy="1574.0" r="15.25"/><circle cx="1794.0" cy="1574.0" r="15.25"/><circle cx="1804.0" cy="1574.0" r="15.25"/><circle cx="1814.0" cy="1574.0" r="15.25"/><circle cx="1824.0" cy="1574.0" r="15.25"/><circle cx="1828.0" cy="1574.0" r="15.25"/><circle cx="1706.0" cy="1587.0" r="15.25"/><circle cx="1716.0" cy="1587.0" r="15.25"/><circle cx="1726.0" cy="1587.0" r="15.25"/><circle cx="1736.0" cy="1587.0" r="15.25"/><circle cx="1746.0" cy="1587.0" r="15.25"/><circle cx="1756.0" cy="1587.0" r="15.25"/><circle cx="1766.0" cy="1587.0" r="15.25"/><circle cx="1776.0" cy="1587.0" r="15.25"/><circle cx="1786.0" cy="1587.0" r="15.25"/><circle cx="1796.0" cy="1587.0" r="15.25"/><circle cx="1806.0" cy="1587.0" r="15.25"/><circle cx="1816.0" cy="1587.0" r="15.25"/><circle cx="1826.0" cy="1587.0" r="15.25"/><circle cx="1836.0" cy="1587.0" r="15.25"/><circle cx="1846.0" cy="1587.0" r="15.25"/><circle cx="1850.0" cy="1587.0" r="15.25"/><circle cx="1702.0" cy="1599.0" r="15.25"/><circle cx="1712.0" cy="1599.0" r="15.25"/><circle cx="1722.0" cy="1599.0" r="15.25"/><circle cx="1732.0" cy="1599.0" r="15.25"/><circle cx="1742.0" cy="1599.0" r="15.25"/><circle cx="1752.0" cy="1599.0" r="15.25"/><circle cx="1762.0" cy="1599.0" r="15.25"/><circle cx="1772.0" cy="1599.0" r="15.25"/><circle cx="1782.0" cy="1599.0" r="15.25"/><circle cx="1792.0" cy="1599.0" r="15.25"/><circle cx="1802.0" cy="1599.0" r="15.25"/><circle cx="1812.0" cy="1599.0" r="15.25"/><circle cx="1822.0" cy="1599.0" r="15.25"/><circle cx="1832.0" cy="1599.0" r="15.25"/><circle cx="1840.0" cy="1599.0" r="15.25"/><circle cx="1700.0" cy="1611.0" r="15.25"/><circle cx="1710.0" cy="1611.0" r="15.25"/><circle cx="1720.0" cy="1611.0" r="15.25"/><circle cx="1730.0" cy="1611.0" r="15.25"/><circle cx="1740.0" cy="1611.0" r="15.25"/><circle cx="1750.0" cy="1611.0" r="15.25"/><circle cx="1760.0" cy="1611.0" r="15.25"/><circle cx="1770.0" cy="1611.0" r="15.25"/><circle cx="1780.0" cy="1611.0" r="15.25"/><circle cx="1790.0" cy="1611.0" r="15.25"/><circle cx="1800.0" cy="1611.0" r="15.25"/><circle cx="1810.0" cy="1611.0" r="15.25"/><circle cx="1820.0" cy="1611.0" r="15.25"/><circle cx="1830.0" cy="1611.0" r="15.25"/><circle cx="1696.0" cy="1623.0" r="15.25"/><circle cx="1706.0" cy="1623.0" r="15.25"/><circle cx="1716.0" cy="1623.0" r="15.25"/><circle cx="1726.0" cy="1623.0" r="15.25"/><circle cx="1736.0" cy="1623.0" r="15.25"/><circle cx="1746.0" cy="1623.0" r="15.25"/><circle cx="1756.0" cy="1623.0" r="15.25"/><circle cx="1766.0" cy="1623.0" r="15.25"/><circle cx="1776.0" cy="1623.0" r="15.25"/><circle cx="1786.0" cy="1623.0" r="15.25"/><circle cx="1796.0" cy="1623.0" r="15.25"/><circle cx="1806.0" cy="1623.0" r="15.25"/><circle cx="1808.0" cy="1623.0" r="15.25"/><circle cx="1682.0" cy="1635.0" r="15.25"/><circle cx="1692.0" cy="1635.0" r="15.25"/><circle cx="1702.0" cy="1635.0" r="15.25"/><circle cx="1712.0" cy="1635.0" r="15.25"/><circle cx="1722.0" cy="1635.0" r="15.25"/><circle cx="1732.0" cy="1635.0" r="15.25"/><circle cx="1742.0" cy="1635.0" r="15.25"/><circle cx="1752.0" cy="1635.0" r="15.25"/><circle cx="1762.0" cy="1635.0" r="15.25"/><circle cx="1772.0" cy="1635.0" r="15.25"/><circle cx="1782.0" cy="1635.0" r="15.25"/><circle cx="1787.0" cy="1635.0" r="15.25"/><circle cx="1688.0" cy="1647.0" r="15.25"/><circle cx="1698.0" cy="1647.0" r="15.25"/><circle cx="1708.0" cy="1647.0" r="15.25"/><circle cx="1718.0" cy="1647.0" r="15.25"/><circle cx="1728.0" cy="1647.0" r="15.25"/><circle cx="1738.0" cy="1647.0" r="15.25"/><circle cx="1748.0" cy="1647.0" r="15.25"/><circle cx="1758.0" cy="1647.0" r="15.25"/><circle cx="1767.0" cy="1647.0" r="15.25"/></g>
<g fill="#b84c4b"><circle cx="1836.5" cy="1256.2" r="15.25"/><circle cx="1911.5" cy="1286.2" r="15.25"/><circle cx="1926.2" cy="1391.2" r="15.25"/><circle cx="2311.5" cy="1156.2" r="15.25"/><circle cx="2526.5" cy="1201.2" r="15.25"/><circle cx="2146.5" cy="1261.2" r="15.25"/><circle cx="2201.5" cy="1266.2" r="15.25"/><circle cx="2201.5" cy="1306.2" r="15.25"/><circle cx="2331.5" cy="1281.2" r="15.25"/><circle cx="2386.5" cy="1271.2" r="15.25"/><circle cx="2426.5" cy="1276.2" r="15.25"/><circle cx="2301.5" cy="1296.2" r="15.25"/><circle cx="2311.5" cy="1311.2" r="15.25"/><circle cx="2316.5" cy="1321.2" r="15.25"/><circle cx="2341.5" cy="1311.2" r="15.25"/><circle cx="2226.5" cy="1341.2" r="15.25"/><circle cx="2256.5" cy="1336.2" r="15.25"/><circle cx="2271.5" cy="1351.2" r="15.25"/><circle cx="2146.5" cy="1356.2" r="15.25"/><circle cx="2031.5" cy="1356.2" r="15.25"/><circle cx="2186.5" cy="1376.2" r="15.25"/><circle cx="2126.5" cy="1381.2" r="15.25"/><circle cx="2116.2" cy="1386.2" r="15.25"/><circle cx="2577.0" cy="1191.2" r="15.25"/><circle cx="2607.0" cy="1196.2" r="15.25"/><circle cx="2636.8" cy="1156.2" r="15.25"/><circle cx="2681.8" cy="1146.2" r="15.25"/><circle cx="2696.8" cy="1161.2" r="15.25"/><circle cx="2607.0" cy="1231.2" r="15.25"/><circle cx="2602.0" cy="1246.2" r="15.25"/><circle cx="1611.5" cy="1471.1" r="15.25"/><circle cx="1696.5" cy="1466.2" r="15.25"/><circle cx="1706.6" cy="1486.4" r="15.25"/><circle cx="1761.5" cy="1476.3" r="15.25"/><circle cx="1786.6" cy="1441.5" r="15.25"/><circle cx="1666.4" cy="1521.5" r="15.25"/><circle cx="1566.3" cy="1546.3" r="15.25"/><circle cx="1566.3" cy="1561.5" r="15.25"/><circle cx="1586.5" cy="1551.4" r="15.25"/><circle cx="1606.1" cy="1556.5" r="15.25"/><circle cx="1626.3" cy="1546.3" r="15.25"/><circle cx="1651.3" cy="1551.4" r="15.25"/><circle cx="1706.6" cy="1521.5" r="15.25"/><circle cx="1696.5" cy="1536.6" r="15.25"/><circle cx="1706.6" cy="1536.6" r="15.25"/><circle cx="1731.6" cy="1521.5" r="15.25"/><circle cx="1736.3" cy="1551.4" r="15.25"/><circle cx="1756.5" cy="1516.3" r="15.25"/><circle cx="1771.4" cy="1511.3" r="15.25"/><circle cx="1776.8" cy="1521.5" r="15.25"/><circle cx="1766.6" cy="1526.5" r="15.25"/><circle cx="1771.4" cy="1551.4" r="15.25"/><circle cx="1811.4" cy="1501.5" r="15.25"/><circle cx="1811.4" cy="1536.6" r="15.25"/><circle cx="1846.7" cy="1520.5" r="15.25"/><circle cx="1771.4" cy="1626.3" r="15.25"/><circle cx="1816.6" cy="1626.3" r="15.25"/><circle cx="1671.5" cy="1651.7" r="15.25"/><circle cx="1726.4" cy="1646.3" r="15.25"/><circle cx="1756.5" cy="1681.4" r="15.25"/><circle cx="1796.3" cy="1636.2" r="15.25"/><circle cx="1781.4" cy="1633.5" r="15.25"/><circle cx="1836.1" cy="1641.3" r="15.25"/><circle cx="1851.6" cy="1656.5" r="15.25"/><circle cx="1876.6" cy="1641.3" r="15.25"/><circle cx="1936.4" cy="1616.2" r="15.25"/><circle cx="2066.4" cy="1406.1" r="15.25"/><circle cx="2041.5" cy="1431.0" r="15.25"/><circle cx="2026.6" cy="1441.1" r="15.25"/><circle cx="2001.0" cy="1446.3" r="15.25"/><circle cx="1961.5" cy="1451.3" r="15.25"/><circle cx="1991.6" cy="1466.1" r="15.25"/><circle cx="2011.8" cy="1476.2" r="15.25"/><circle cx="2006.4" cy="1461.4" r="15.25"/><circle cx="2051.6" cy="1471.1" r="15.25"/><circle cx="2036.1" cy="1476.2" r="15.25"/><circle cx="2041.5" cy="1496.5" r="15.25"/><circle cx="2071.2" cy="1501.5" r="15.25"/><circle cx="2051.6" cy="1516.7" r="15.25"/><circle cx="1876.5" cy="1471.1" r="15.25"/><circle cx="1896.5" cy="1486.3" r="15.25"/><circle cx="1926.4" cy="1491.5" r="15.25"/><circle cx="1871.5" cy="1506.6" r="15.25"/><circle cx="1871.5" cy="1541.7" r="15.25"/><circle cx="1886.3" cy="1521.4" r="15.25"/><circle cx="1901.2" cy="1506.6" r="15.25"/><circle cx="1911.3" cy="1536.5" r="15.25"/><circle cx="1921.4" cy="1517.4" r="15.25"/><circle cx="1936.3" cy="1526.8" r="15.25"/><circle cx="1961.5" cy="1506.6" r="15.25"/><circle cx="1951.1" cy="1517.4" r="15.25"/><circle cx="1971.3" cy="1521.4" r="15.25"/><circle cx="1991.6" cy="1511.6" r="15.25"/><circle cx="2011.8" cy="1521.4" r="15.25"/><circle cx="1860.7" cy="1518.7" r="15.25"/><circle cx="1880.9" cy="1532.2" r="15.25"/><circle cx="1894.4" cy="1521.4" r="15.25"/><circle cx="1907.9" cy="1516.0" r="15.25"/><circle cx="1896.0" cy="1503.0" r="15.25"/><circle cx="2136.5" cy="1401.2" r="15.25"/><circle cx="2206.5" cy="1426.2" r="15.25"/><circle cx="2156.5" cy="1431.2" r="15.25"/><circle cx="2126.5" cy="1441.2" r="15.25"/><circle cx="2121.2" cy="1446.2" r="15.25"/><circle cx="2121.2" cy="1461.2" r="15.25"/><circle cx="2146.5" cy="1471.2" r="15.25"/><circle cx="2151.5" cy="1501.2" r="15.25"/><circle cx="2121.5" cy="1506.2" r="15.25"/><circle cx="2361.5" cy="1541.2" r="15.25"/></g>
<rect x="1553.50" y="1036.25" width="5.50" height="658.75" fill="#161412"/>
<rect x="1558.00" y="1035.95" width="20.00" height="5.60" fill="#161412"/>
<rect x="1558.00" y="1145.70" width="20.00" height="5.60" fill="#161412"/>
<rect x="1558.00" y="1261.20" width="20.00" height="5.60" fill="#161412"/>
<rect x="1558.00" y="1361.30" width="20.00" height="5.60" fill="#161412"/>
<rect x="1558.00" y="1470.95" width="20.00" height="5.60" fill="#161412"/>
<rect x="1558.00" y="1586.10" width="20.00" height="5.60" fill="#161412"/>
<text x="1541.30" y="1058.80" font-size="48" text-anchor="end" letter-spacing="3.3">10000</text>
<text x="1541.30" y="1165.05" font-size="48" text-anchor="end" letter-spacing="3.3">1000</text>
<text x="1541.30" y="1283.05" font-size="48" text-anchor="end" letter-spacing="3.3">100</text>
<text x="1541.30" y="1383.80" font-size="48" text-anchor="end" letter-spacing="3.3">10</text>
<text x="1541.30" y="1492.30" font-size="48" text-anchor="end" letter-spacing="3.3">1</text>
<text x="1541.30" y="1606.80" font-size="48" text-anchor="end" letter-spacing="3.3">0.1</text>
<text x="1541.30" y="1707.55" font-size="48" text-anchor="end" letter-spacing="3.3">0.01</text>
<text x="1559.40" y="1753.00" font-size="48" text-anchor="middle" letter-spacing="4">0</text>
<text x="1872.50" y="1753.00" font-size="48" text-anchor="middle" letter-spacing="4">10</text>
<text x="2180.60" y="1753.00" font-size="48" text-anchor="middle" letter-spacing="4">20</text>
<text x="2492.75" y="1753.00" font-size="48" text-anchor="middle" letter-spacing="4">30</text>
<text x="2802.00" y="1753.00" font-size="48" text-anchor="middle" letter-spacing="4">40</text>
<text x="1627.00" y="1082.00" font-size="58" text-anchor="start" >c</text>
<text x="2079.00" y="1838.50" font-size="52" text-anchor="start" font-family="'Liberation Serif', 'Noto Serif CJK SC', serif">孔</text>
<text x="2133.00" y="1838.50" font-size="52" text-anchor="start" font-family="'Liberation Serif', 'Noto Serif CJK SC', serif">隙</text>
<text x="2185.00" y="1838.50" font-size="52" text-anchor="start" font-family="'Liberation Serif', 'Noto Serif CJK SC', serif">度</text>
<text x="2237.00" y="1836.00" font-size="50" text-anchor="start" >/</text>
<text x="2253.00" y="1836.00" font-size="50" text-anchor="start" font-style="italic">%</text>
<g fill="#6079ab"><circle cx="2617.2" cy="1543.2" r="15.3"/></g>
<g fill="#b84c4b"><circle cx="2617.2" cy="1613.2" r="15.3"/></g>
<text x="2648.00" y="1560.00" font-size="51" text-anchor="start" font-family="'Liberation Serif', 'Noto Serif CJK SC', serif">西</text>
<text x="2700.50" y="1560.00" font-size="51" text-anchor="start" font-family="'Liberation Serif', 'Noto Serif CJK SC', serif">部</text>
<text x="2648.00" y="1632.50" font-size="51" text-anchor="start" font-family="'Liberation Serif', 'Noto Serif CJK SC', serif">东</text>
<text x="2700.50" y="1632.50" font-size="51" text-anchor="start" font-family="'Liberation Serif', 'Noto Serif CJK SC', serif">部</text>
<g transform="translate(1420.5,1596) rotate(-90)">
<text x="0.00" y="0.00" font-size="52" text-anchor="start" font-family="'Liberation Serif', 'Noto Serif CJK SC', serif">渗</text>
<text x="54.00" y="0.00" font-size="52" text-anchor="start" font-family="'Liberation Serif', 'Noto Serif CJK SC', serif">透</text>
<text x="108.00" y="0.00" font-size="52" text-anchor="start" font-family="'Liberation Serif', 'Noto Serif CJK SC', serif">率</text>
<text x="162.00" y="0.00" font-size="50" text-anchor="start" >/</text>
<text x="181.00" y="1.00" font-size="54" text-anchor="start" >×</text>
<text x="218.00" y="0.00" font-size="48" text-anchor="start" letter-spacing="1">10</text>
<text x="271.00" y="-25.00" font-size="27" text-anchor="start" >−3</text>
<text x="312.00" y="0.00" font-size="50" text-anchor="start" >μm</text>
<text x="381.00" y="-25.00" font-size="27" text-anchor="start" >2</text>
</g>
</svg></body></html>
